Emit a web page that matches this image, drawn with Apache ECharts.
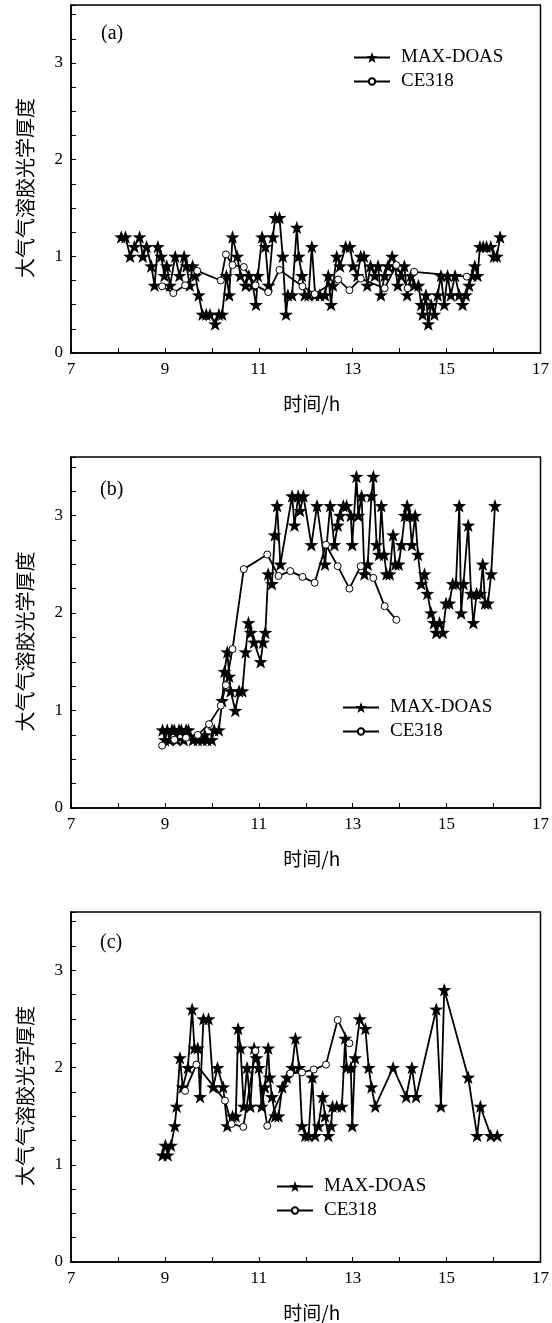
<!DOCTYPE html>
<html>
<head>
<meta charset="utf-8">
<script src="https://cdn.jsdelivr.net/npm/echarts@6/dist/echarts.min.js"></script>
<style>
html,body{margin:0;padding:0;background:#fff;}
#c{width:552px;height:1323px;}
</style>
</head>
<body>
<div id="c"></div>
<script>
// ---------- data ----------
var panelLabels = ['(a)', '(b)', '(c)'];
var seriesNames = ['MAX-DOAS', 'CE318'];
var xTickLabels = [7, 9, 11, 13, 15, 17];
var yTickLabels = [0, 1, 2, 3];

// panel (a)
var aMaxHours = [8.07,8.16,8.26,8.35,8.46,8.53,8.61,8.71,8.78,8.85,8.92,8.99,9.04,9.11,9.22,9.31,9.41,9.46,9.53,9.59,9.65,9.72,9.80,9.88,9.96,10.07,10.15,10.22,10.31,10.37,10.44,10.54,10.61,10.72,10.79,10.87,10.94,10.98,11.07,11.14,11.21,11.30,11.35,11.44,11.51,11.58,11.62,11.71,11.81,11.85,11.92,11.98,12.06,12.13,12.20,12.30,12.41,12.48,12.54,12.58,12.66,12.73,12.85,12.94,13.01,13.10,13.17,13.24,13.31,13.38,13.47,13.54,13.60,13.68,13.75,13.84,13.90,13.96,14.03,14.10,14.16,14.24,14.31,14.40,14.46,14.49,14.56,14.61,14.67,14.74,14.81,14.88,14.95,15.02,15.09,15.18,15.27,15.34,15.41,15.48,15.55,15.60,15.66,15.71,15.78,15.85,15.94,16.01,16.07,16.14];
var aMaxAod   = [1.2,1.2,1.0,1.1,1.2,1.0,1.1,0.9,0.7,1.1,1.0,0.8,0.9,0.7,1.0,0.8,1.0,0.9,0.7,0.9,0.8,0.6,0.4,0.4,0.4,0.3,0.4,0.4,0.8,0.6,1.2,1.0,0.8,0.7,0.8,0.7,0.5,0.8,1.2,1.1,0.7,1.2,1.4,1.4,1.0,0.4,0.6,0.6,1.3,1.0,0.8,0.6,0.6,1.1,0.6,0.6,0.6,0.8,0.5,0.7,1.0,0.9,1.1,1.1,0.9,0.8,1.0,1.0,0.7,0.9,0.8,0.9,0.6,0.8,0.9,1.0,0.9,0.7,0.8,0.9,0.6,0.8,0.7,0.7,0.5,0.4,0.6,0.3,0.5,0.4,0.6,0.8,0.5,0.8,0.6,0.8,0.6,0.5,0.6,0.7,0.8,0.9,0.8,1.1,1.1,1.1,1.1,1.0,1.0,1.2];
var aCeHours = [8.94,9.18,9.43,9.69,10.19,10.30,10.44,10.68,10.93,11.20,11.44,11.93,12.19,12.69,12.93,13.17,13.68,13.93,14.17,14.31,15.43];
var aCeAod   = [0.69,0.62,0.70,0.85,0.75,1.02,0.91,0.89,0.70,0.63,0.86,0.69,0.61,0.76,0.65,0.77,0.67,0.91,0.67,0.84,0.79];

// panel (b)
var bMaxHours = [8.95,9.00,9.05,9.10,9.15,9.20,9.25,9.30,9.35,9.40,9.45,9.50,9.60,9.70,9.80,9.85,9.90,10.00,10.05,10.15,10.22,10.27,10.33,10.37,10.40,10.50,10.58,10.65,10.72,10.78,10.83,10.90,11.04,11.09,11.14,11.20,11.28,11.34,11.39,11.46,11.71,11.76,11.84,11.88,11.95,12.12,12.24,12.41,12.52,12.61,12.68,12.73,12.80,12.87,12.96,12.99,13.08,13.12,13.19,13.25,13.32,13.40,13.44,13.51,13.56,13.61,13.67,13.72,13.79,13.86,13.91,13.98,14.04,14.11,14.16,14.21,14.26,14.33,14.39,14.46,14.53,14.59,14.67,14.73,14.78,14.85,14.92,14.99,15.06,15.13,15.20,15.27,15.31,15.36,15.46,15.52,15.57,15.64,15.72,15.77,15.82,15.88,15.95,16.03];
var bMaxAod   = [0.8,0.7,0.8,0.7,0.8,0.8,0.7,0.8,0.8,0.7,0.8,0.8,0.7,0.7,0.7,0.75,0.7,0.7,0.8,0.8,1.1,1.4,1.6,1.35,1.2,1.0,1.2,1.2,1.6,1.9,1.8,1.7,1.5,1.7,1.8,2.4,2.3,2.8,3.1,2.5,3.2,2.9,3.2,3.05,3.2,2.7,3.1,2.5,3.1,2.7,2.9,3.0,3.1,3.1,3.0,2.7,3.4,3.0,3.2,2.4,2.5,3.2,3.4,2.7,2.6,3.1,2.6,2.4,2.4,2.8,2.5,2.5,2.7,3.0,3.1,3.0,2.7,3.0,2.6,2.3,2.4,2.2,2.0,1.9,1.8,1.9,1.8,2.1,2.1,2.3,2.3,3.1,2.0,2.3,2.9,2.2,1.9,2.2,2.2,2.5,2.1,2.1,2.4,3.1];
var bCeHours = [8.94,9.20,9.45,9.70,9.94,10.19,10.30,10.44,10.68,11.18,11.42,11.67,11.93,12.19,12.43,12.68,12.93,13.17,13.44,13.68,13.93];
var bCeAod   = [0.64,0.70,0.72,0.75,0.86,1.05,1.26,1.63,2.45,2.60,2.38,2.43,2.37,2.31,2.70,2.48,2.25,2.48,2.36,2.07,1.93];

// panel (c)
var cMaxHours = [8.95,9.01,9.06,9.13,9.21,9.25,9.32,9.38,9.49,9.58,9.63,9.70,9.75,9.82,9.93,10.03,10.12,10.24,10.33,10.44,10.51,10.56,10.61,10.68,10.75,10.82,10.90,10.95,11.00,11.06,11.13,11.20,11.23,11.28,11.35,11.42,11.50,11.60,11.71,11.78,11.86,11.92,11.99,12.06,12.14,12.20,12.27,12.36,12.41,12.48,12.54,12.57,12.66,12.77,12.84,12.87,12.96,12.99,13.05,13.15,13.27,13.34,13.40,13.48,13.86,14.14,14.26,14.35,14.78,14.88,14.95,15.46,15.65,15.72,15.94,16.08];
var cMaxAod   = [1.1,1.2,1.1,1.2,1.4,1.6,2.1,1.8,2.0,2.6,2.2,2.2,1.7,2.5,2.5,1.8,2.0,1.8,1.4,1.5,1.5,2.4,2.2,1.6,2.0,1.6,2.2,2.1,2.0,1.6,1.8,2.2,1.9,1.7,1.5,1.5,1.8,1.9,2.0,2.3,2.0,1.4,1.3,1.3,1.9,1.3,1.4,1.7,1.5,1.3,1.4,1.6,1.6,1.6,2.3,2.0,2.0,1.4,2.1,2.5,2.4,2.0,1.8,1.6,2.0,1.7,2.0,1.7,2.6,1.6,2.8,1.9,1.3,1.6,1.3,1.3];
var cCeHours = [9.43,9.67,10.28,10.42,10.67,10.93,11.18,11.67,11.92,12.17,12.43,12.68,12.93];
var cCeAod   = [1.76,2.03,1.66,1.42,1.39,2.17,1.40,1.94,1.95,1.98,2.03,2.49,2.25];

// ---------- build ----------
function zip(xs, ys){ return xs.map(function(x,i){ return [x, ys[i]]; }); }
var STAR = 'path://M50,2 L61.76,35.82 L97.55,36.55 L69.02,58.18 L79.39,92.45 L50,72 L20.61,92.45 L30.98,58.18 L2.45,36.55 L38.24,35.82 Z';
var FONT = "'Liberation Serif','Noto Sans CJK SC',serif";
var CJK = "'Noto Sans CJK SC','Liberation Serif',serif";

var panels = [
  {top:5,   height:348, max:[aMaxHours,aMaxAod], ce:[aCeHours,aCeAod], legend:{left:348, top:43}, label:{x:101, y:35}},
  {top:457, height:351, max:[bMaxHours,bMaxAod], ce:[bCeHours,bCeAod], legend:{left:337, top:693}, label:{x:100, y:491}},
  {top:912, height:350, max:[cMaxHours,cMaxAod], ce:[cCeHours,cCeAod], legend:{left:271, top:1172}, label:{x:100, y:944}}
];

var grids=[], xAxes=[], yAxes=[], series=[], legends=[], graphics=[];
panels.forEach(function(p, i){
  grids.push({left:71, top:p.top, width:472, height:p.height, show:true, borderColor:'#000', borderWidth:1.5, backgroundColor:'transparent'});
  xAxes.push({
    gridIndex:i, type:'value', min:7, max:17, interval:1,
    name:'时间/h', nameLocation:'middle', nameGap:41,
    nameTextStyle:{fontFamily:CJK, fontSize:19, color:'#000', padding:[0,0,0,12]},
    axisLine:{show:true, onZero:false, lineStyle:{color:'#000', width:1.5}},
    axisTick:{show:true, inside:true, length:5, lineStyle:{color:'#000', width:1}},
    axisLabel:{color:'#000', fontFamily:FONT, fontSize:17, margin:8,
      formatter:function(v){ return xTickLabels.indexOf(v) >= 0 ? String(v) : ''; }},
    splitLine:{show:false}
  });
  yAxes.push({
    gridIndex:i, type:'value', min:0, max:3.6, interval:0.25,
    name:'大气气溶胶光学厚度', nameLocation:'middle', nameGap:36, nameRotate:90,
    nameTextStyle:{fontFamily:CJK, fontSize:20, color:'#000', padding:[0,18,0,0]},
    axisLine:{show:true, onZero:false, lineStyle:{color:'#000', width:1.5}},
    axisTick:{show:true, inside:true, length:5, lineStyle:{color:'#000', width:1}},
    axisLabel:{color:'#000', fontFamily:FONT, fontSize:17, margin:8,
      formatter:function(v){ return yTickLabels.indexOf(v) >= 0 ? String(v) : ''; }},
    splitLine:{show:false}
  });
  series.push({
    name:seriesNames[0], type:'line', xAxisIndex:i, yAxisIndex:i,
    data:zip(p.max[0], p.max[1]), symbol:STAR, symbolSize:14, symbolKeepAspect:true,
    showAllSymbol:true, animation:false,
    lineStyle:{color:'#000', width:1.8}, itemStyle:{color:'#000', borderWidth:0}
  });
  series.push({
    name:seriesNames[1], type:'line', xAxisIndex:i, yAxisIndex:i,
    data:zip(p.ce[0], p.ce[1]), symbol:'circle', symbolSize:7,
    showAllSymbol:true, animation:false,
    lineStyle:{color:'#000', width:1.8}, itemStyle:{color:'#fff', borderColor:'#000', borderWidth:1}
  });
  // one legend per series so each icon can have its own symbol size
  legends.push({
    data:[seriesNames[0]], left:p.legend.left, top:p.legend.top,
    itemWidth:36, itemHeight:14, selectedMode:false,
    textStyle:{fontFamily:FONT, fontSize:19, color:'#000', padding:[0,0,0,6]}
  });
  legends.push({
    data:[seriesNames[1]], left:p.legend.left, top:p.legend.top + 24,
    itemWidth:36, itemHeight:8, selectedMode:false,
    textStyle:{fontFamily:FONT, fontSize:19, color:'#000', padding:[0,0,0,6]}
  });
  graphics.push({type:'text', left:p.label.x, top:p.label.y-11,
    style:{text:panelLabels[i], font:"20px 'Liberation Serif', serif", fill:'#000'}});
});

var chart = echarts.init(document.getElementById('c'), null, {renderer:'canvas'});
chart.setOption({
  backgroundColor:'#fff',
  animation:false,
  grid:grids, xAxis:xAxes, yAxis:yAxes, series:series, legend:legends, graphic:graphics
});
</script>
</body>
</html>
